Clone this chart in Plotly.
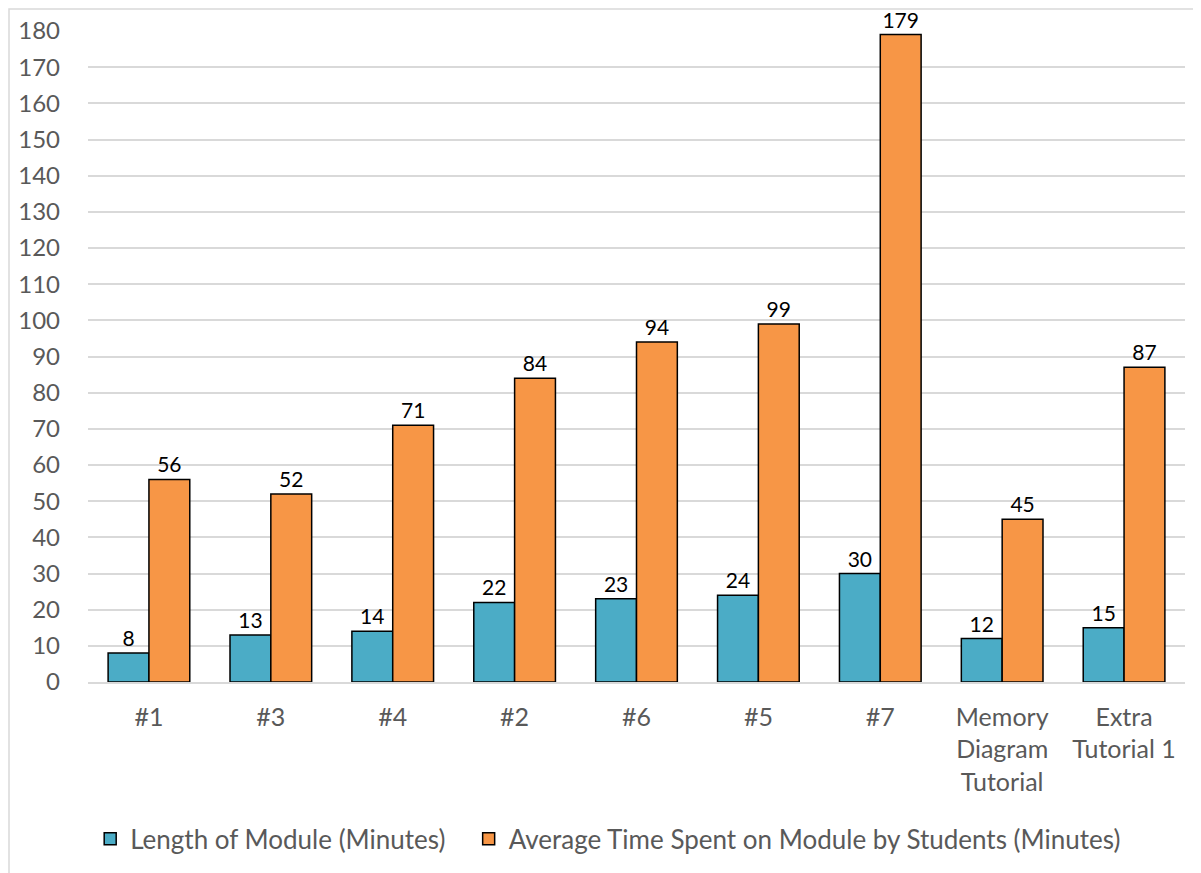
import plotly.graph_objects as go

categories = ["#1", "#3", "#4", "#2", "#6", "#5", "#7",
              "Memory<br>Diagram<br>Tutorial", "Extra<br>Tutorial 1"]
length_vals = [8, 13, 14, 22, 23, 24, 30, 12, 15]
avg_vals = [56, 52, 71, 84, 94, 99, 179, 45, 87]
y_ticks = list(range(0, 190, 10))

FONT = "Lato"
LABEL_FONT = dict(family=FONT, size=21, color="#000000")
LEG_FONT = dict(family=FONT, size=26, color="#595959")

fig = go.Figure()
fig.add_trace(go.Bar(
    x=categories, y=length_vals, name="Length of Module (Minutes)",
    marker=dict(color="#4bacc6", line=dict(color="#000000", width=1.5)),
    text=length_vals, textposition="outside", cliponaxis=False,
    textfont=LABEL_FONT, legend="legend",
))
fig.add_trace(go.Bar(
    x=categories, y=avg_vals, name="Average Time Spent on Module by Students (Minutes)",
    marker=dict(color="#f79646", line=dict(color="#000000", width=1.5)),
    text=avg_vals, textposition="outside", cliponaxis=False,
    textfont=LABEL_FONT, legend="legend2",
))

# page body adds an 8px offset; compensate so the screenshot lines up
W, H = 1193, 865
ml, mr, mt, mb = 80, 16, 23, 191
pw, ph = W - ml - mr, H - mt - mb

leg_common = dict(orientation="h", y=-0.205, yanchor="top", xanchor="left",
                  font=LEG_FONT, itemwidth=30, bgcolor="rgba(0,0,0,0)")

fig.update_layout(
    width=W, height=H,
    margin=dict(l=ml, r=mr, t=mt, b=mb, autoexpand=False),
    plot_bgcolor="white", paper_bgcolor="white",
    barmode="group", bargap=0.33, bargroupgap=0,
    font=dict(family=FONT, size=24, color="#595959"),
    showlegend=True,
    legend=dict(x=0.002, **leg_common),
    legend2=dict(x=0.347, **leg_common),
    xaxis=dict(showline=True, linecolor="#d9d9d9", linewidth=1.5,
               tickfont=dict(family=FONT, size=25, color="#595959"),
               ticks="", ticklabelstandoff=12, automargin=False),
    yaxis=dict(range=[0, 180], tickvals=y_ticks, showgrid=True,
               gridcolor="#d9d9d9", gridwidth=1.5, zeroline=False,
               tickfont=dict(family=FONT, size=24, color="#595959"),
               ticklabelstandoff=27, automargin=False),
    shapes=[dict(type="rect", xref="paper", yref="paper",
                 x0=(1 - ml) / pw, x1=(W + 20 - ml) / pw,
                 y0=-(H + 20 - mt - ph) / ph, y1=(ph + mt - 1) / ph,
                 line=dict(color="#d9d9d9", width=1.5), layer="below")],
)

fig.write_html("out.html")
